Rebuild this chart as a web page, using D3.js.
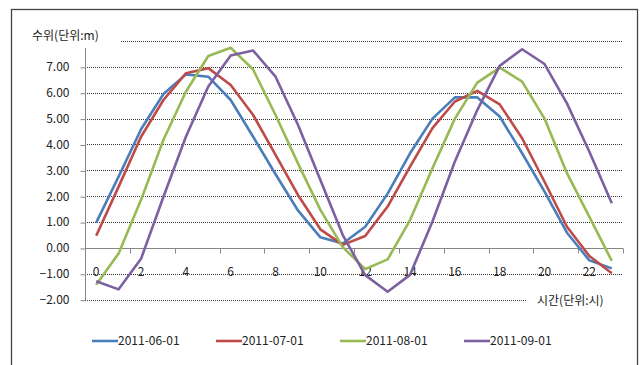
<!DOCTYPE html>
<html><head><meta charset="utf-8">
<script src="https://cdn.jsdelivr.net/npm/d3@7"></script>
<style>body{margin:0;background:#fff}svg{display:block}text{font-family:"Noto Sans CJK KR","Noto Sans",sans-serif;fill:#222}</style>
</head><body>
<svg id="c" width="643" height="365"></svg>
<script>
const hours = d3.range(0, 24);
const hourTickLabels = ["0","2","4","6","8","10","12","14","16","18","20","22"];
const yTicks = [-2,-1,0,1,2,3,4,5,6,7];
const seriesNames = ["2011-06-01","2011-07-01","2011-08-01","2011-09-01"];
const colors = ["#4A7EBB","#BE4B48","#98B954","#7D60A0"];
const jun = [0.98,2.76,4.59,5.95,6.71,6.62,5.72,4.30,2.85,1.45,0.41,0.17,0.82,2.10,3.66,5.00,5.82,5.82,5.08,3.66,2.18,0.59,-0.48,-0.79];
const jul = [0.47,2.37,4.30,5.72,6.75,6.95,6.30,5.14,3.60,2.05,0.72,0.12,0.46,1.60,3.14,4.63,5.66,6.07,5.55,4.24,2.56,0.82,-0.31,-0.98];
const aug = [-1.42,-0.21,1.86,4.18,6.04,7.42,7.74,6.90,5.14,3.27,1.47,0.03,-0.82,-0.44,1.08,3.08,5.00,6.39,6.97,6.43,5.00,2.89,1.20,-0.50];
const sep = [-1.29,-1.60,-0.42,1.98,4.30,6.24,7.44,7.63,6.62,4.76,2.63,0.50,-1.05,-1.69,-1.04,1.02,3.34,5.33,7.04,7.68,7.11,5.59,3.72,1.73];
const series = [jun, jul, aug, sep];

const svg = d3.select("#c");
const x = d3.scaleBand().domain(hours).range([85, 623]);
const y = d3.scaleLinear().domain([-2, 8]).range([299.7, 41]);

// outer border
svg.append("rect").attr("x",11.5).attr("y",9.5).attr("width",626).attr("height",365)
  .attr("fill","none").attr("stroke","#444").attr("stroke-width",1.3);

// gridlines
const grid = [8,7,6,5,4,3,2,1,-1,-2];
svg.append("g").selectAll("line").data(grid).join("line")
  .attr("x1",85).attr("x2",623)
  .attr("y1",d=>Math.round(y(d))+0.5).attr("y2",d=>Math.round(y(d))+0.5)
  .attr("stroke","#333").attr("stroke-width",1).attr("stroke-dasharray","1,1");

// y axis
const yAxis = d3.axisLeft(y).tickValues(yTicks).tickSize(5).tickFormat(d3.format(".2f"));
const gy = svg.append("g").attr("transform","translate(85.5,0)").call(yAxis);
gy.select(".domain").remove();
gy.selectAll(".tick line").attr("stroke","#868686").attr("transform","translate(0,0.5)");
gy.selectAll(".tick text").attr("x",-16).attr("font-size",12).attr("fill","#222")
  .style("font-family","'Noto Sans CJK KR',sans-serif");
svg.append("line").attr("x1",85.5).attr("x2",85.5).attr("y1",48).attr("y2",300)
  .attr("stroke","#868686");

// x axis at 0
const y0 = Math.round(y(0))+0.5;
svg.append("line").attr("x1",85).attr("x2",623).attr("y1",y0).attr("y2",y0).attr("stroke","#868686");
const tickPos = d3.range(0, 25, 2).map(i => i < 24 ? x(i) : x(23) + x.bandwidth());
svg.append("g").selectAll("line").data(tickPos).join("line")
  .attr("x1",d=>Math.round(d)+0.5).attr("x2",d=>Math.round(d)+0.5)
  .attr("y1",y0).attr("y2",y0+5).attr("stroke","#868686");
svg.append("g").selectAll("text").data(hourTickLabels).join("text")
  .attr("x",d=>x(+d)+x.bandwidth()/2).attr("y",272).attr("dy","0.35em")
  .attr("text-anchor","middle").attr("font-size",12).text(d=>d);

// titles with white backing
svg.append("rect").attr("x",28).attr("y",26).attr("width",92).attr("height",20).attr("fill","#fff");
svg.append("text").attr("x",32).attr("y",36).attr("dy","0.35em").attr("font-size",12).text("수위(단위:m)");
svg.append("rect").attr("x",527).attr("y",290).attr("width",96).attr("height",22).attr("fill","#fff");
svg.append("text").attr("x",537).attr("y",301).attr("dy","0.35em").attr("font-size",12).text("시간(단위:시)");

// lines
const line = d3.line().x((d,i)=>x(i)+x.bandwidth()/2).y(d=>y(d));
svg.append("g").selectAll("path").data(series).join("path")
  .attr("d",line).attr("fill","none").attr("stroke",(d,i)=>colors[i])
  .attr("stroke-width",2.6).attr("stroke-linejoin","round");

// legend
const lg = svg.append("g").selectAll("g").data(seriesNames).join("g")
  .attr("transform",(d,i)=>`translate(${92 + i*124},341)`);
lg.append("line").attr("x1",0).attr("x2",26).attr("stroke",(d,i)=>colors[i]).attr("stroke-width",2.6);
lg.append("text").attr("x",26).attr("dy","0.35em").attr("font-size",12).text(d=>d);
</script>
</body></html>
